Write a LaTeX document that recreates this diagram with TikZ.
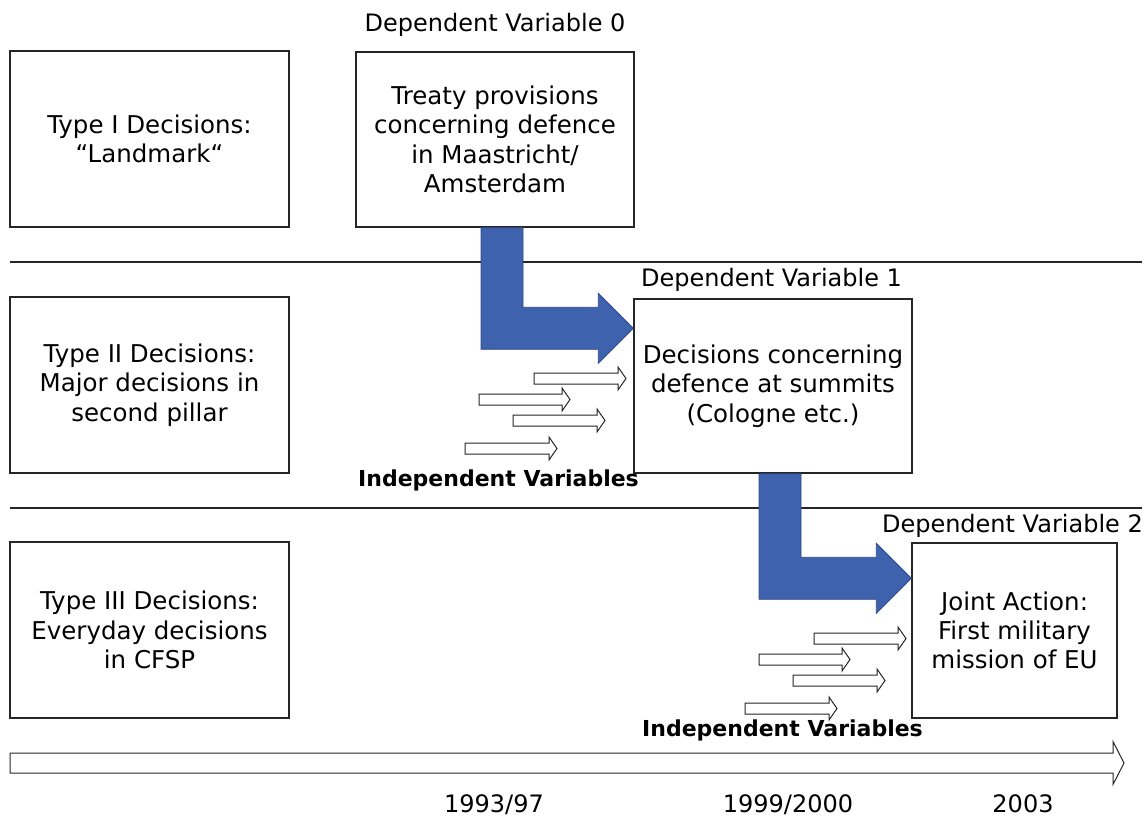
\documentclass[tikz,border=0pt]{standalone}
\usepackage{fontspec}
\setmainfont{DejaVu Sans}
\usetikzlibrary{calc}
\definecolor{flowblue}{HTML}{3F62AE}
\definecolor{flowedge}{HTML}{2E4A88}
\begin{document}
\begin{tikzpicture}[x=1pt,y=-1pt,
  box/.style={draw=black!85, line width=1.5pt, fill=white, align=center,
    font=\fontsize{24.5}{29.3}\selectfont, inner sep=0pt},
  lbl/.style={font=\fontsize{24}{29.3}\selectfont, inner sep=0pt},
  ivlbl/.style={font=\fontsize{22}{26}\selectfont\bfseries, inner sep=0pt},
  divider/.style={draw=black!85, line width=1.4pt},
  bigarrow/.style={fill=flowblue, draw=flowedge, line width=0.8pt, line join=miter},
  thinarrow/.style={draw=black!85, fill=white, line width=1pt, line join=miter},
  pics/ivarrow/.style={code={
    \draw[thinarrow] (0,-5.5) -- (#1-8,-5.5) -- (#1-8,-11.5) -- (#1,0)
      -- (#1-8,11.5) -- (#1-8,5.5) -- (0,5.5) -- cycle;}}
]
\useasboundingbox (0,0) rectangle (1148,818);

% row dividers
\coordinate (d1l) at (10,262);  \coordinate (d1r) at (1142,262);
\coordinate (d2l) at (10,508);  \coordinate (d2r) at (1142,508);
\draw[divider] (d1l) -- (d1r);
\draw[divider] (d2l) -- (d2r);

% decision types
\node[box, minimum width=279, minimum height=176] (type1) at (149.5,139)
  {Type I Decisions:\\“Landmark“};
\node[box, minimum width=279, minimum height=176] (type2) at (149.5,385)
  {Type II Decisions:\\Major decisions in\\second pillar};
\node[box, minimum width=279, minimum height=176] (type3) at (149.5,630)
  {Type III Decisions:\\Everyday decisions\\in CFSP};

% dependent variables
\node[box, minimum width=278, minimum height=175] (treaty) at (495,139.5)
  {Treaty provisions\\concerning defence\\in Maastricht/\\Amsterdam};
\node[box, minimum width=278, minimum height=174] (dv1) at (773,386)
  {Decisions concerning\\defence at summits\\(Cologne etc.)};
\node[box, minimum width=205, minimum height=175] (dv2) at (1014.5,630.5)
  {Joint Action:\\First military\\mission of EU};

\node[lbl, anchor=base] (lab0) at (495,32) {Dependent Variable 0};
\node[lbl, anchor=base west] (lab1) at (641,287) {Dependent Variable 1};
\node[lbl, anchor=base east] (lab2) at (1143,532) {Dependent Variable 2};

% bent arrows from one level to the next
\coordinate (s1) at ([xshift=7pt]treaty.south);
\coordinate (t1) at ($(dv1.north west)+(0,30)$);
\coordinate (s2) at ([xshift=7pt]dv1.south);
\coordinate (t2) at ($(dv2.north west)+(0,36)$);
\foreach \s/\t in {s1/t1, s2/t2}{
  \path[bigarrow] ($(\s)+(-21,0)$) -- ($(\s)+(21,0)$) -- ($(\s|-\t)+(21,-21)$)
    -- ($(\t)+(-35,-21)$) -- ($(\t)+(-35,-35)$) -- (\t) -- ($(\t)+(-35,35)$)
    -- ($(\t)+(-35,21)$) -- ($(\s|-\t)+(-21,21)$) -- cycle;
}

% independent variables
\foreach \dx/\dy in {0/0, 280/260}{
  \begin{scope}[shift={(\dx,\dy)}]
    \pic at (534,378.5) {ivarrow=92};
    \pic at (479,399.5) {ivarrow=91};
    \pic at (513,420.5) {ivarrow=92};
    \pic at (465,448.5) {ivarrow=92};
  \end{scope}
}
\node[ivlbl, anchor=base] (iv1) at (498.5,486) {Independent Variables};
\node[ivlbl, anchor=base] (iv2) at (782.5,736) {Independent Variables};

% time axis
\coordinate (tl0) at (10,763);
\coordinate (tl1) at (1124,763);
\draw[thinarrow] ($(tl0)+(0,-10)$) -- ($(tl1)+(-11,-10)$) -- ($(tl1)+(-11,-21.5)$)
  -- (tl1) -- ($(tl1)+(-11,21.5)$) -- ($(tl1)+(-11,10)$) -- ($(tl0)+(0,10)$) -- cycle;

\node[lbl, anchor=base] (y1) at (494,812) {1993/97};
\node[lbl, anchor=base] (y2) at (788,812) {1999/2000};
\node[lbl, anchor=base] (y3) at (1023,812) {2003};
\end{tikzpicture}
\end{document}
